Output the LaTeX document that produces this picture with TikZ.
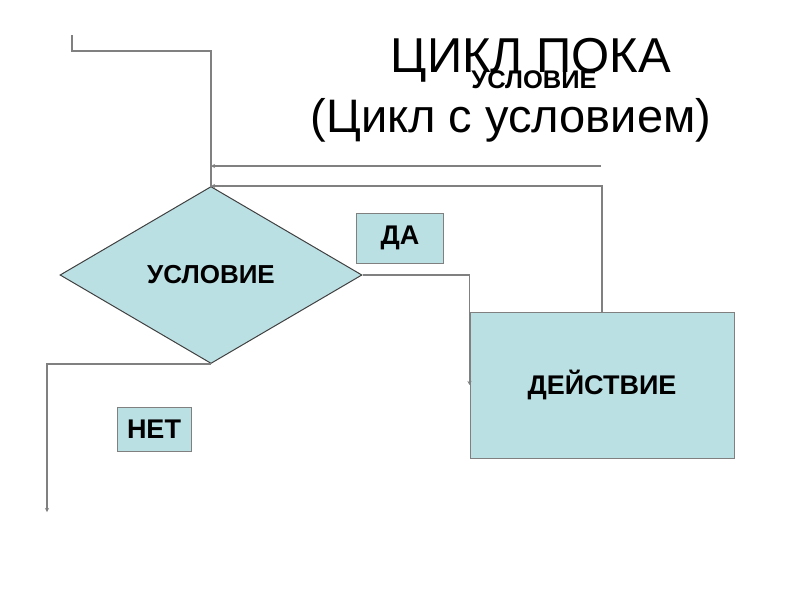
\documentclass[tikz,border=0pt]{standalone}
\usepackage{fontspec}
\setmainfont{Liberation Sans}
\usetikzlibrary{shapes.geometric, arrows.meta}
\definecolor{boxfill}{RGB}{187,224,228}
\definecolor{linegray}{RGB}{128,128,128}

\begin{document}
\begin{tikzpicture}[x = 1pt, y = -1pt,
    conn/.style = {draw = linegray, line width = 1.4pt},
    tip/.style = {-{Stealth[length = 4pt, width = 4pt]}},
    lbl/.style = {draw = linegray, fill = boxfill, line width = 1pt,
        font = \fontsize{27}{30}\selectfont\bfseries, inner sep = 0pt}]
            \useasboundingbox (0,0) rectangle (800,600);
            % title
            \node (title) at (531,60) {\fontsize{49}{54}\selectfont ЦИКЛ ПОКА};
            \node (sub) at (511,120) {\fontsize{47}{52}\selectfont (Цикл с условием)};
            \node (stray) at (534,80) {\fontsize{25.5}{28}\selectfont\bfseries УСЛОВИЕ};
            % blocks
            \node[diamond, draw = darkgray, fill = boxfill, line width = 1pt,
                minimum width = 302pt, minimum height = 177pt, inner sep = 0pt,
                font = \fontsize{26}{30}\selectfont\bfseries] (cond) at (211,275) {УСЛОВИЕ};
            \node[lbl, minimum width = 264pt, minimum height = 146pt] (act) at (602,385) {ДЕЙСТВИЕ};
            \node[lbl, minimum width = 87pt, minimum height = 50pt] (yes) at (400,238) {ДА};
            \node[lbl, minimum width = 74pt, minimum height = 44pt] (no) at (154,429) {НЕТ};
            % free ends
            \coordinate (in) at (72,35);
            \coordinate (inb) at (211,51);
            \coordinate (back) at (601,166);
            \coordinate (backj) at (211,166);
            \coordinate (out) at (47,512);
            % connectors
            \draw[conn] (in) |- (inb) -- (cond.north);
            \draw[conn, tip] (back) -- (backj);
            \draw[conn, tip] (act.north) |- (cond.north);
            \draw[conn, tip] (cond.east) -| (act.west);
            \draw[conn, tip] (cond.south) -| (out);
\end{tikzpicture}
\end{document}
